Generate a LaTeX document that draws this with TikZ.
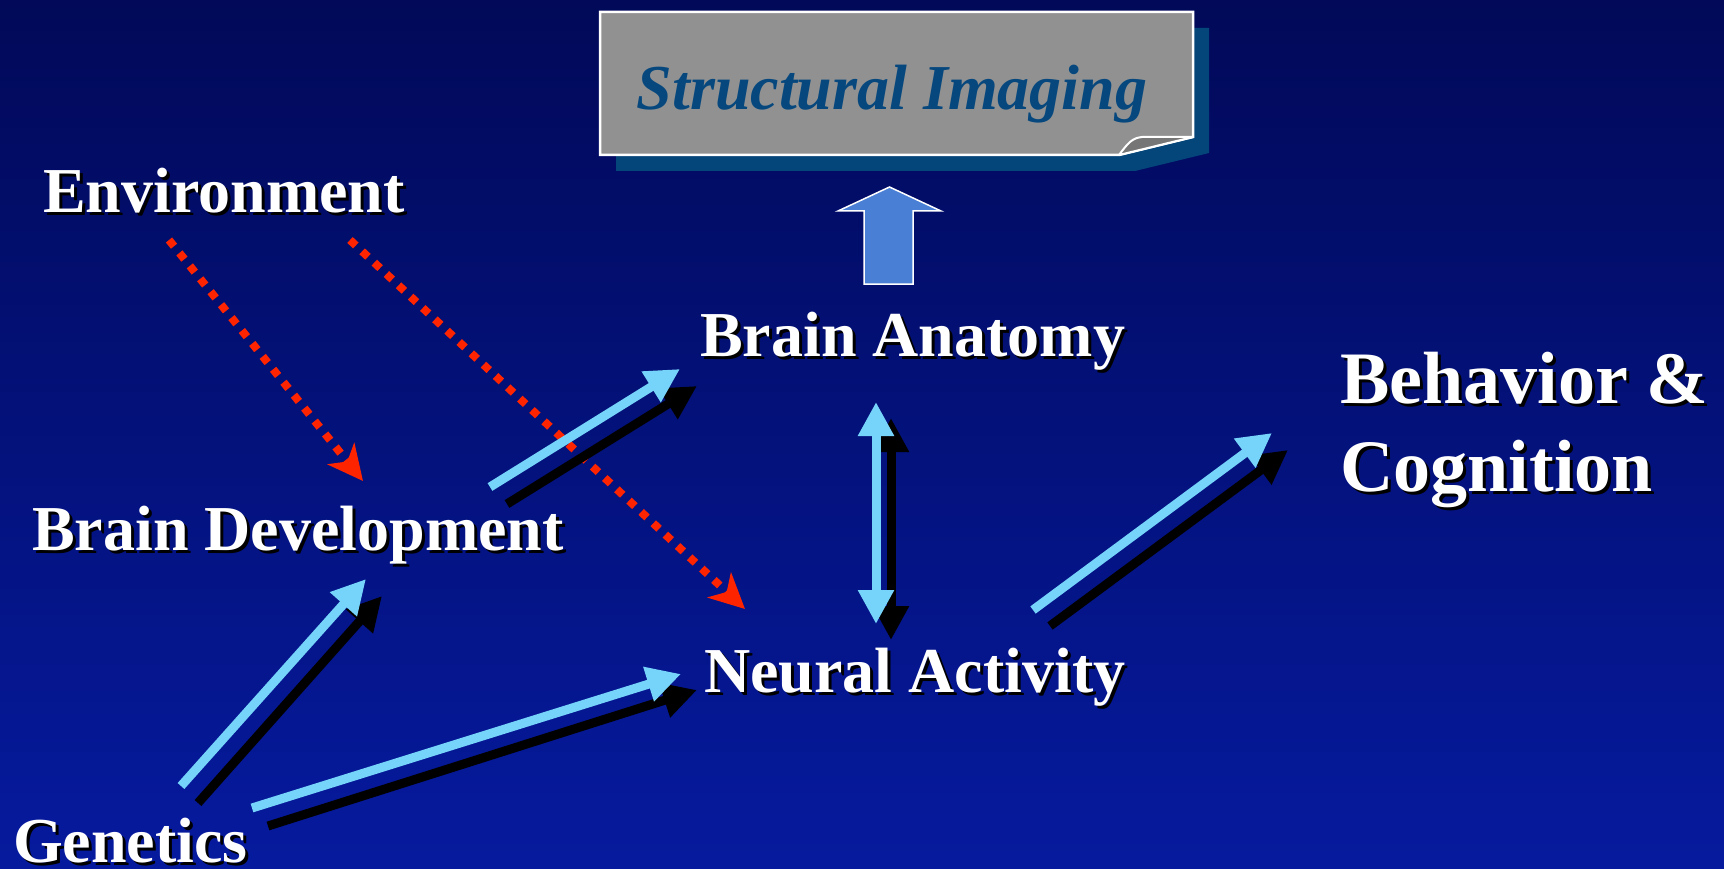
\documentclass[tikz,border=0pt]{standalone}
\usepackage{fontspec}
\setmainfont{Liberation Serif}
\usetikzlibrary{arrows.meta}
\definecolor{bgtop}{RGB}{1,9,88}
\definecolor{bgbot}{RGB}{6,26,158}
\definecolor{lblue}{RGB}{118,211,250}
\definecolor{blockblue}{RGB}{74,127,214}
\definecolor{boxgray}{RGB}{145,145,145}
\definecolor{flapgray}{RGB}{118,118,118}
\definecolor{boxshadow}{RGB}{4,69,122}
\definecolor{titleblue}{RGB}{6,72,126}
\definecolor{envred}{RGB}{255,36,0}
\tikzset{
  lbl/.style={anchor=base west, inner sep=0pt, text=white},
  lblshadow/.style={anchor=base west, inner sep=0pt, text=black, xshift=3pt, yshift=-3pt},
  tipT/.tip={Triangle[length=34pt,width=34pt]},
  bluearrow/.style={draw=lblue, line width=9pt},
  blackarrow/.style={draw=black, line width=9pt},
  redarrow/.style={draw=envred, line width=8pt, dash pattern=on 8pt off 8.6pt,
    -{Stealth[length=35pt,width=34pt,inset=10pt]}},
}
\newcommand{\shlabel}[4]{%
  \node[lblshadow, font=\fontsize{#3}{#3}\selectfont\bfseries] at (#2) {#4};
  \node[lbl, font=\fontsize{#3}{#3}\selectfont\bfseries] (#1) at (#2) {#4};}
\begin{document}
\begin{tikzpicture}[x=1pt,y=-1pt]
\useasboundingbox (0,0) rectangle (1724,869);
\shade[top color=bgtop, bottom color=bgbot] (0,0) rectangle (1724,869);

% Structural imaging box
\fill[boxshadow] (616,28) -- (1209,28) -- (1209,153) -- (1135,171) -- (616,171) -- cycle;
\draw[white, line width=2.5pt, fill=boxgray] (600,12) -- (1193,12) -- (1193,137) -- (1119,155) -- (600,155) -- cycle;
\draw[white, line width=2pt, fill=flapgray, line join=round] (1119,155) .. controls (1128,143) and (1132,138) .. (1142,137) -- (1193,137) -- cycle;
\node[inner sep=0pt, anchor=base, text=titleblue, font=\fontsize{64}{64}\selectfont\bfseries\itshape] (si) at (892,110) {Structural Imaging};

% block arrow
\draw[white, line width=1.5pt, fill=blockblue] (864,284) -- (864,211) -- (838,211) -- (889.5,187) -- (941,211) -- (913,211) -- (913,284) -- cycle;

% labels
\shlabel{env}{43,213}{64}{Environment}
\shlabel{bdev}{32,550}{64}{Brain Development}
\shlabel{gen}{13,862}{64}{Genetics}
\shlabel{anat}{700,356}{64}{Brain Anatomy}
\shlabel{neur}{704,692}{64}{Neural Activity}
\shlabel{beh}{1340,403}{74}{Behavior \&}
\shlabel{cog}{1340,491}{74}{Cognition}

% arrow coordinates
\coordinate (gbA) at (181,786); \coordinate (gbB) at (366,579);
\coordinate (gbC) at (198,803); \coordinate (gbD) at (382,596);
\coordinate (gnA) at (252,808); \coordinate (gnB) at (681,674);
\coordinate (gnC) at (268,826); \coordinate (gnD) at (697,690);
\coordinate (baA) at (490,487); \coordinate (baB) at (680,369);
\coordinate (baC) at (507,504); \coordinate (baD) at (697,386);
\coordinate (anA) at (876,402); \coordinate (anB) at (876,624);
\coordinate (anC) at (891,418); \coordinate (anD) at (891,640);
\coordinate (nbA) at (1033,610); \coordinate (nbB) at (1272,433);
\coordinate (nbC) at (1050,626); \coordinate (nbD) at (1288,450);
\coordinate (erA) at (169,240); \coordinate (erB) at (363,481);
\coordinate (enA) at (350,240); \coordinate (enB) at (745,609);

% red dotted arrows
\draw[redarrow] (erA) -- (erB);
\draw[redarrow] (enA) -- (enB);

% shadowed arrows
\draw[blackarrow, -tipT] (gbC) -- (gbD);
\draw[bluearrow, -tipT] (gbA) -- (gbB);
\draw[blackarrow, -tipT] (gnC) -- (gnD);
\draw[bluearrow, -tipT] (gnA) -- (gnB);
\draw[blackarrow, -tipT] (baC) -- (baD);
\draw[bluearrow, -tipT] (baA) -- (baB);
\draw[blackarrow, tipT-tipT] (anC) -- (anD);
\draw[bluearrow, tipT-tipT] (anA) -- (anB);
\draw[blackarrow, -tipT] (nbC) -- (nbD);
\draw[bluearrow, -tipT] (nbA) -- (nbB);
\end{tikzpicture}
\end{document}
